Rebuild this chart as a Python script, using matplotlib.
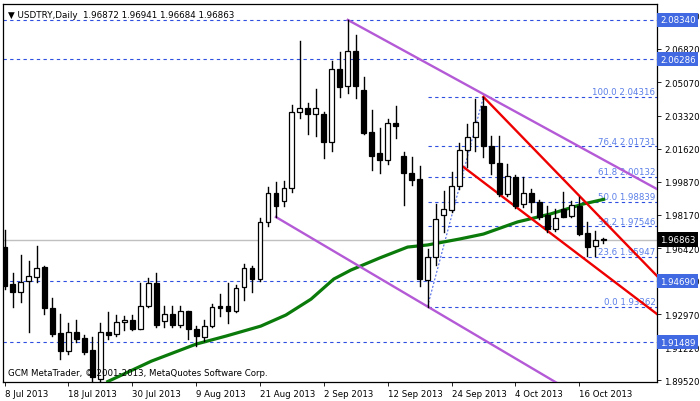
import matplotlib
matplotlib.use("Agg")
import matplotlib.pyplot as plt
from matplotlib.patches import Rectangle

plt.rcParams['font.family'] = ['DejaVu Sans']

opens = [1.9647,1.9454,1.9412,1.9469,1.9490,1.9543,1.9328,1.9198,1.9104,1.9203,
         1.9171,1.9109,1.8957,1.9203,1.9192,1.9255,1.9266,1.9219,1.9339,1.9459,
         1.9260,1.9297,1.9239,1.9313,1.9219,1.9177,1.9234,1.9339,1.9339,1.9313,
         1.9438,1.9537,1.9480,1.9778,1.9929,1.9888,1.9956,2.0353,2.0374,2.0342,
         2.0342,2.0196,2.0578,2.0489,2.0672,2.0468,2.0248,2.0138,2.0102,2.0295,
         2.0123,2.0034,2.0003,1.9475,1.9595,1.9814,1.9841,1.9966,2.0154,2.0222,
         2.0384,2.0175,2.0086,1.9924,2.0013,1.9872,1.9929,1.9882,1.9814,1.9741,
         1.9846,1.9809,1.9861,1.9720,1.9652,1.96872]
highs = [1.9736,1.9511,1.9605,1.9574,1.9652,1.9548,1.9381,1.9297,1.9250,1.9266,
         1.9187,1.9177,1.9250,1.9307,1.9292,1.9286,1.9292,1.9459,1.9485,1.9511,
         1.9339,1.9339,1.9339,1.9313,1.9234,1.9266,1.9349,1.9401,1.9459,1.9448,
         1.9558,1.9548,1.9799,1.9961,1.9987,1.9992,2.0389,2.0724,2.0400,2.0473,
         2.0353,2.0619,2.0666,2.0834,2.0755,2.0536,2.0363,2.0269,2.0316,2.0384,
         2.0144,2.0118,2.0071,1.9637,1.9872,1.9940,2.0039,2.0191,2.0290,2.0421,
         2.04316,2.0227,2.0227,2.0081,2.0023,2.0013,1.9950,1.9893,1.9861,1.9846,
         1.9935,1.9888,1.9909,1.9778,1.9731,1.96941]
lows = [1.9428,1.9334,1.9360,1.9203,1.9464,1.9297,1.9182,1.9062,1.9088,1.9151,
        1.9088,1.8947,1.8941,1.9166,1.9182,1.9213,1.9213,1.9219,1.9334,1.9229,
        1.9229,1.9229,1.9229,1.9166,1.9130,1.9156,1.9229,1.9286,1.9250,1.9307,
        1.9370,1.9412,1.9469,1.9757,1.9804,1.9861,1.9935,2.0321,2.0238,2.0227,
        2.0112,2.0149,2.0431,2.0452,2.0426,2.0238,2.0050,2.0034,2.0081,2.0217,
        1.9867,1.9971,1.9443,1.93362,1.9553,1.9726,1.9830,1.9950,2.0065,2.0149,
        2.0118,2.0029,1.9914,1.9914,1.9851,1.9856,1.9830,1.9794,1.9726,1.9731,
        1.9804,1.9804,1.9710,1.9600,1.9600,1.96684]
closes = [1.9443,1.9412,1.9464,1.9496,1.9537,1.9328,1.9192,1.9104,1.9203,1.9166,
          1.9098,1.8968,1.9203,1.9187,1.9255,1.9266,1.9219,1.9339,1.9459,1.9239,
          1.9297,1.9239,1.9313,1.9219,1.9182,1.9234,1.9334,1.9328,1.9313,1.9433,
          1.9537,1.9480,1.9778,1.9929,1.9861,1.9956,2.0353,2.0374,2.0342,2.0374,
          2.0196,2.0578,2.0483,2.0672,2.0489,2.0243,2.0123,2.0102,2.0295,2.0280,
          2.0034,1.9997,1.9480,1.9595,1.9794,1.9846,1.9966,2.0154,2.0222,2.0301,
          2.0175,2.0086,1.9924,2.0018,1.9861,1.9929,1.9882,1.9804,1.9741,1.9799,
          1.9804,1.9867,1.9715,1.9647,1.9684,1.96863]

ma_bars = [12.75,18.4,24,27.75,32.1,35.25,38.4,41.25,43.4,47,50.5,53,57,60,64.25,68.4,72.5,75.25]
ma_vals = [1.8941,1.9051,1.9140,1.9182,1.9234,1.9292,1.9375,1.9480,1.9527,1.9590,1.9647,1.9658,1.9689,1.9715,1.9778,1.9820,1.9872,1.9898]

date_ticks = [0,8,16,24,32,40,48,56,64,72]
date_labels = ["8 Jul 2013","18 Jul 2013","30 Jul 2013","9 Aug 2013","21 Aug 2013",
               "2 Sep 2013","12 Sep 2013","24 Sep 2013","4 Oct 2013","16 Oct 2013"]
y_ticks = [2.08570,2.06820,2.05070,2.03320,2.01620,1.99870,1.98170,1.96420,1.94720,1.92970,1.91220,1.89520]
hlines = [2.08340,2.06286,1.94690,1.91489]
current = 1.96863
fib_pct = ["100.0","76.4","61.8","50.0","38.2","23.6","0.0"]
fib_vals = [2.04316,2.01731,2.00132,1.98839,1.97546,1.95947,1.93362]
purple_up = ([43,81.75],[2.0834,1.9950])
purple_lo = ([34,53],[1.9804,1.93362])
red_up = ([60,81.75],[2.04316,1.9496])
red_lo = ([57,81.75],[2.0081,1.9297])
fib_from = ([53,60],[1.93362,2.04316])

XMAX = 81.75
fig = plt.figure(figsize=(7,4.02), dpi=100)
ax = fig.add_axes([3/700, 1-383/402, 654/700, 378/402])
ax.set_xlim(-0.2, XMAX)
ax.set_ylim(1.8942, 2.0917)
BLUE = '#2f4fe0'
dash = dict(color=BLUE, lw=0.8, ls=(0,(3,3)))

for v in hlines:
    ax.axhline(v, zorder=1, **dash)
ax.axhline(current, color='#c0c0c0', lw=1, zorder=1)
for v in fib_vals:
    ax.plot([53, XMAX], [v, v], zorder=1, **dash)
ax.plot(*fib_from, color=BLUE, lw=0.7, ls=(0,(2,2)), zorder=1)

ax.plot(ma_bars, ma_vals, color='#0a7a0a', lw=2.3, zorder=4, solid_capstyle='butt')

def ray(pts, color):
    xs, ys = pts
    s = (ys[1]-ys[0])/(xs[1]-xs[0])
    ax.plot([xs[0], XMAX], [ys[0], ys[0]+s*(XMAX-xs[0])], color=color, lw=1.7, zorder=5)
ray(purple_up, '#b45ad6')
ray(purple_lo, '#b45ad6')
ray(red_up, '#ee0000')
ray(red_lo, '#ee0000')

w = 0.6
for i,(o,h,l,c) in enumerate(zip(opens,highs,lows,closes)):
    ax.plot([i,i],[l,h], color='black', lw=1, zorder=6)
    bot, top = min(o,c), max(o,c)
    ax.add_patch(Rectangle((i-w/2, bot), w, max(top-bot,0.0003),
                           facecolor='black' if c < o else 'white',
                           edgecolor='black', lw=0.9, zorder=7))

for p, v in zip(fib_pct, fib_vals):
    ax.text(XMAX-0.2, v+0.0004, f"{p} {v:.5f}", ha='right', va='bottom',
            fontsize=6.2, color='#5a7fe8', zorder=3)

ax.yaxis.tick_right()
ax.set_yticks(y_ticks)
ax.set_yticklabels([f"{v:.5f}" for v in y_ticks], fontsize=6.2)
ax.tick_params(axis='y', length=3, pad=2, width=0.6)
ax.set_xticks(date_ticks)
ax.set_xticklabels(date_labels, fontsize=6.2)
for t in ax.get_xticklabels():
    t.set_ha('left')
ax.tick_params(axis='x', length=3, pad=2, width=0.6)
for s in ax.spines.values():
    s.set_linewidth(0.9)

tr = ax.get_yaxis_transform()
for v in hlines:
    ax.text(1.0045, v, f"{v:.5f}", transform=tr, ha='left', va='center', fontsize=6.2,
            color='white', clip_on=False, zorder=10,
            bbox=dict(boxstyle='square,pad=0.3', fc='#4169e1', ec='none'))
ax.text(1.0045, current, f"{current:.5f}", transform=tr, ha='left', va='center', fontsize=6.2,
        color='white', clip_on=False, zorder=10,
        bbox=dict(boxstyle='square,pad=0.3', fc='black', ec='none'))

ax.text(0.008, 0.985, "▼ USDTRY,Daily  1.96872 1.96941 1.96684 1.96863", transform=ax.transAxes,
        ha='left', va='top', fontsize=6.3, color='black', zorder=10)
ax.text(0.008, 0.012, "GCM MetaTrader, © 2001-2013, MetaQuotes Software Corp.", transform=ax.transAxes,
        ha='left', va='bottom', fontsize=6.2, color='black', zorder=10)

fig.savefig("out.png", dpi=100)
